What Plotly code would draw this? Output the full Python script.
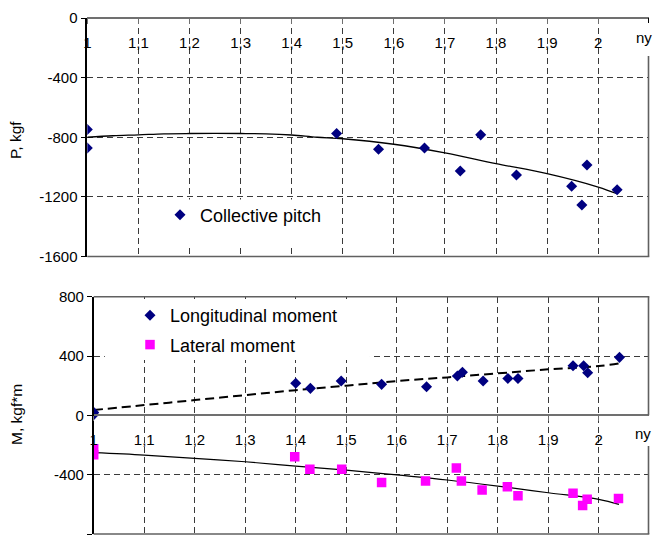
import plotly.graph_objects as go

# ---------------- data ----------------
# top panel: collective pitch control force
cp_x = [1.0, 1.0, 1.488, 1.570, 1.660, 1.730, 1.770, 1.840, 1.948, 1.968, 1.978, 2.037]
cp_y = [-748, -872, -775, -881, -872, -1026, -784, -1053, -1129, -1255, -986, -1152]
cp_trend_x = [1.0, 1.05, 1.1, 1.15, 1.2, 1.3, 1.35, 1.4, 1.45, 1.5, 1.6, 1.7, 1.8, 1.9, 2.0, 2.037]
cp_trend_y = [-800, -790, -784, -777, -775, -775, -777, -785, -800, -810, -847, -905, -977, -1044, -1134, -1179]

# bottom panel: moments
lo_x = [1.0, 1.0, 1.400, 1.429, 1.490, 1.570, 1.659, 1.720, 1.730, 1.771, 1.820, 1.840, 1.949, 1.970, 1.978, 2.041]
lo_y = [20, 5, 216, 182, 231, 209, 193, 265, 290, 231, 249, 249, 334, 334, 287, 391]
lo_trend_x = [1.0, 1.1, 1.2, 1.3, 1.4, 1.5, 1.6, 1.7, 1.8, 1.9, 2.0, 2.04]
lo_trend_y = [36, 69, 103, 136, 170, 200, 231, 256, 283, 310, 332, 350]

la_x = [1.0, 1.0, 1.398, 1.428, 1.491, 1.570, 1.657, 1.718, 1.728, 1.769, 1.819, 1.840, 1.949, 1.968, 1.977, 2.039]
la_y = [-225, -265, -279, -364, -364, -452, -443, -355, -443, -504, -481, -542, -526, -607, -566, -560]
la_trend_x = [1.0, 1.1, 1.2, 1.3, 1.4, 1.5, 1.6, 1.7, 1.8, 1.9, 2.0, 2.04]
la_trend_y = [-252, -268, -290, -313, -342, -369, -402, -436, -477, -522, -566, -600]

x_ticks = [1.0, 1.1, 1.2, 1.3, 1.4, 1.5, 1.6, 1.7, 1.8, 1.9, 2.0]
x_ticktext = ["1", "1,1", "1,2", "1,3", "1,4", "1,5", "1,6", "1,7", "1,8", "1,9", "2"]
top_yticks = [0, -400, -800, -1200, -1600]
top_yticktext = ["0", "-400", "-800", "-1200", "-1600"]
bot_yticks = [800, 400, 0, -400, -800]
bot_yticktext = ["800", "400", "0", "-400", "-800"]

# ---------------- layout geometry ----------------
W, H = 659, 538
FONT = "Arial, Liberation Sans, sans-serif"
NAVY = "#000080"
MAGENTA = "#FF00FF"
GRID = "#3a3a3a"
AXGRAY = "#707070"

def px_x(p):
    return p / W

def px_y(p):
    return (H - p) / H

top_dom_x = [px_x(87.3), px_x(649.3)]
bot_dom_x = [px_x(93.7), px_x(649.3)]
top_dom_y = [px_y(256.5), px_y(18)]
bot_dom_y = [px_y(534), px_y(296.7)]

fig = go.Figure()

# top traces
fig.add_trace(go.Scatter(x=cp_trend_x, y=cp_trend_y, mode="lines",
                         line=dict(color="black", width=1.3, shape="spline"),
                         showlegend=False, xaxis="x", yaxis="y", hoverinfo="skip"))
fig.add_trace(go.Scatter(x=cp_x, y=cp_y, mode="markers", name="Collective pitch",
                         marker=dict(symbol="diamond", color=NAVY, size=8.5),
                         xaxis="x", yaxis="y", legend="legend"))

# bottom traces
fig.add_trace(go.Scatter(x=lo_trend_x, y=lo_trend_y, mode="lines",
                         line=dict(color="black", width=2, dash="9px,5px", shape="spline"),
                         showlegend=False, xaxis="x2", yaxis="y2", hoverinfo="skip"))
fig.add_trace(go.Scatter(x=la_trend_x, y=la_trend_y, mode="lines",
                         line=dict(color="black", width=1.2, shape="spline"),
                         showlegend=False, xaxis="x2", yaxis="y2", hoverinfo="skip"))
fig.add_trace(go.Scatter(x=lo_x, y=lo_y, mode="markers", name="Longitudinal moment",
                         marker=dict(symbol="diamond", color=NAVY, size=8.5),
                         xaxis="x2", yaxis="y2", legend="legend2", legendgroup="a"))
fig.add_trace(go.Scatter(x=la_x, y=la_y, mode="markers", name="Lateral moment",
                         marker=dict(symbol="square", color=MAGENTA, size=9.5),
                         xaxis="x2", yaxis="y2", legend="legend2", legendgroup="b"))

xcommon = dict(range=[1.0, 2.1], tickmode="array", tickvals=x_ticks, ticktext=x_ticktext,
               showgrid=True, gridcolor=GRID, griddash="6px,4px", gridwidth=1,
               showline=True, linecolor=AXGRAY, linewidth=1.5,
               ticks="outside", ticklen=5, tickcolor=AXGRAY,
               tickfont=dict(family=FONT, size=15, color="black"),
               ticklabelstandoff=6, zeroline=False, automargin=False,
               anchor="free", side="bottom", fixedrange=True)
ycommon = dict(showgrid=True, gridcolor=GRID, griddash="6px,4px", gridwidth=1,
               showline=True, linecolor="black", linewidth=1.5,
               ticks="outside", ticklen=5, tickcolor="black",
               tickfont=dict(family=FONT, size=15, color="black"),
               zeroline=False, automargin=False, fixedrange=True,
               tickmode="array")

fig.update_layout(
    width=W, height=H,
    margin=dict(l=0, r=0, t=0, b=0),
    paper_bgcolor="white", plot_bgcolor="white",
    font=dict(family=FONT, size=15, color="black"),
    xaxis=dict(xcommon, domain=top_dom_x, position=top_dom_y[1]),
    yaxis=dict(ycommon, domain=top_dom_y, range=[-1600, 0], tickvals=top_yticks,
               ticktext=top_yticktext, anchor="x"),
    xaxis2=dict(xcommon, domain=bot_dom_x, position=(bot_dom_y[0] + bot_dom_y[1]) / 2),
    yaxis2=dict(ycommon, domain=bot_dom_y, range=[-800, 800], tickvals=bot_yticks,
                ticktext=bot_yticktext, anchor="x2"),
    legend=dict(x=px_x(160), y=px_y(215), xanchor="left", yanchor="middle",
                bgcolor="rgba(0,0,0,0)", font=dict(family=FONT, size=18, color="black")),
    legend2=dict(x=px_x(130), y=px_y(330), xanchor="left", yanchor="middle",
                 bgcolor="rgba(0,0,0,0)", tracegroupgap=3, traceorder="grouped",
                 font=dict(family=FONT, size=18, color="black")),
    showlegend=True,
)

RIGHT = px_x(648.5)
BORDER = dict(color="#606060", width=1.6)
shapes = []
# legend background boxes (hide gridlines)
shapes.append(dict(type="rect", xref="x", yref="y", x0=1.123, x1=1.455, y0=-1519, y1=-1217,
                   fillcolor="white", line=dict(width=0), layer="between"))
shapes.append(dict(type="rect", xref="x2", yref="y2", x0=1.022, x1=1.547, y0=373, y1=784,
                   fillcolor="white", line=dict(width=0), layer="between"))
# top panel borders
shapes.append(dict(type="line", xref="paper", yref="paper", x0=top_dom_x[0], x1=top_dom_x[1],
                   y0=top_dom_y[0], y1=top_dom_y[0], line=BORDER))
shapes.append(dict(type="line", xref="paper", yref="paper", x0=RIGHT, x1=RIGHT,
                   y0=top_dom_y[0], y1=px_y(56), line=BORDER))
shapes.append(dict(type="line", xref="paper", yref="paper", x0=RIGHT, x1=RIGHT,
                   y0=top_dom_y[1], y1=px_y(23), line=dict(color="black", width=1)))
# bottom panel borders
shapes.append(dict(type="line", xref="paper", yref="paper", x0=bot_dom_x[0], x1=bot_dom_x[1],
                   y0=bot_dom_y[1], y1=bot_dom_y[1], line=BORDER))
shapes.append(dict(type="line", xref="paper", yref="paper", x0=bot_dom_x[0], x1=bot_dom_x[1],
                   y0=bot_dom_y[0], y1=bot_dom_y[0], line=BORDER))
shapes.append(dict(type="line", xref="paper", yref="paper", x0=RIGHT, x1=RIGHT,
                   y0=bot_dom_y[1], y1=px_y(415.3), line=BORDER))
shapes.append(dict(type="line", xref="paper", yref="paper", x0=RIGHT, x1=RIGHT,
                   y0=px_y(446), y1=bot_dom_y[0], line=BORDER))
fig.update_layout(shapes=shapes)

annotations = [
    dict(text="ny", xref="paper", yref="paper", x=px_x(644), y=px_y(37),
         showarrow=False, font=dict(family=FONT, size=15, color="black"),
         xanchor="center", yanchor="middle"),
    dict(text="ny", xref="paper", yref="paper", x=px_x(643), y=px_y(433),
         showarrow=False, font=dict(family=FONT, size=15, color="black"),
         xanchor="center", yanchor="middle"),
    dict(text="P, kgf", xref="paper", yref="paper", x=px_x(16), y=px_y(140),
         showarrow=False, textangle=-90, font=dict(family=FONT, size=15.5, color="black"),
         xanchor="center", yanchor="middle"),
    dict(text="M, kgf*m", xref="paper", yref="paper", x=px_x(16), y=px_y(415),
         showarrow=False, textangle=-90, font=dict(family=FONT, size=15.5, color="black"),
         xanchor="center", yanchor="middle"),
]
fig.update_layout(annotations=annotations)

fig.write_html("out.html", config={"displayModeBar": False})

# remove the default page margin so the figure sits at the window's top-left corner
with open("out.html", "r", encoding="utf-8") as f:
    html = f.read()
html = html.replace("<head>", "<head><style>html,body{margin:0;padding:0;overflow:hidden;}</style>", 1)
with open("out.html", "w", encoding="utf-8") as f:
    f.write(html)
